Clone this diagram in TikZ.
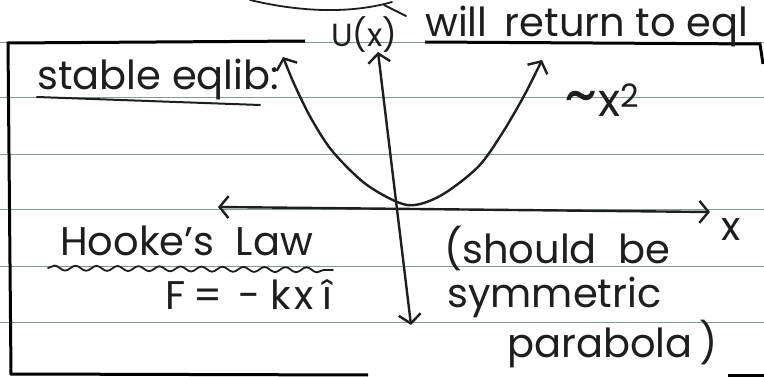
\documentclass[tikz,border=0pt]{standalone}
\usepackage{fontspec}
\setmainfont{Poppins}
\usetikzlibrary{arrows.meta, decorations.pathmorphing}
\definecolor{cInk}{HTML}{1E1E1E}
\definecolor{cRule}{HTML}{86999A}
\tikzset{
    x=1pt, y=-1pt,
    hand/.style={font=\fontsize{40}{42}\selectfont, text=cInk, inner sep=0pt},
    pen/.style={draw=cInk, line width=2.4pt, line cap=round, line join=round},
    frame/.style={draw=black, line width=3pt},
    rule/.style={draw=cRule, line width=1pt},
    tip/.style={pen, {Straight Barb[length=9pt, width=22pt]}-{Straight Barb[length=9pt, width=22pt]}},
    squiggle/.style={pen, line width=1.8pt, decorate,
                     decoration={snake, amplitude=2.5pt, segment length=21pt}},
}

\begin{document}
\begin{tikzpicture}
    \useasboundingbox (0,0) rectangle (764,377);
    \fill[white] (0,0) rectangle (764,377);

    % ruled paper
    \foreach \y in {43,98,155,210,267,322} {
        \draw[rule] (0,\y) -- (764,\y);
    }

    % box round the note
    \draw[frame] (305,41) -- (8,43) -- (11,374) -- (368,375);
    \draw[frame] (425,42) -- (760,44) -- (763,64);
    \draw[frame] (728,375) -- (764,375);
    \draw[pen, line width=1.8pt] (250,0) .. controls (300,12) and (350,14) .. (392,2);
    \draw[pen, line width=1.8pt] (384,5) -- (406,16);

    % axes and the well
    \coordinate (yTop) at (378,52);
    \coordinate (yBot) at (411,325);
    \coordinate (xLeft) at (218,207);
    \coordinate (xRight) at (710,212);
    \coordinate (vertex) at (407,205);
    \coordinate (armL) at (283,57);
    \coordinate (armR) at (542,60);
    \draw[tip] (yTop) -- (yBot);
    \draw[tip] (xLeft) -- (xRight);
    \draw[tip] plot[smooth] coordinates {(armL) (296,88) (312,120) (333,152)
        (367,185) (vertex) (440,196) (478,167) (503,132) (525,94) (armR)};

    \node[hand, font=\fontsize{32}{34}\selectfont] (potential) at (364,35) {U(x)};
    \node[hand, anchor=base west] (returns) at (425,37) {will\, return to eql};
    \node[hand, anchor=base west] (stable) at (37,90) {stable eqlib:};
    \draw[pen, line width=2pt] (37,97) -- (260,105);
    \node[hand, font=\fontsize{46}{46}\selectfont] (power) at (602,100)
        {{\fontsize{64}{64}\selectfont\textasciitilde}x\textsuperscript{2}};
    \node[hand] (xlabel) at (731,230) {x};

    \node[hand, anchor=base west] (hooke) at (60,255) {Hooke's\; Law};
    \draw[squiggle] (48,268) -- (333,270);
    \node[hand, anchor=base west] (force) at (165,309)
        {F\hspace{8pt}=\hspace{16pt}-\hspace{10pt}k\hspace{4pt}x\hspace{8pt}î};

    \node[hand, anchor=base west] (note1) at (444,264) {(should\; be};
    \node[hand, anchor=base west] (note2) at (447,308) {symmetric};
    \node[hand, anchor=base west] (note3) at (507,357) {parabola\,)};
\end{tikzpicture}
\end{document}
